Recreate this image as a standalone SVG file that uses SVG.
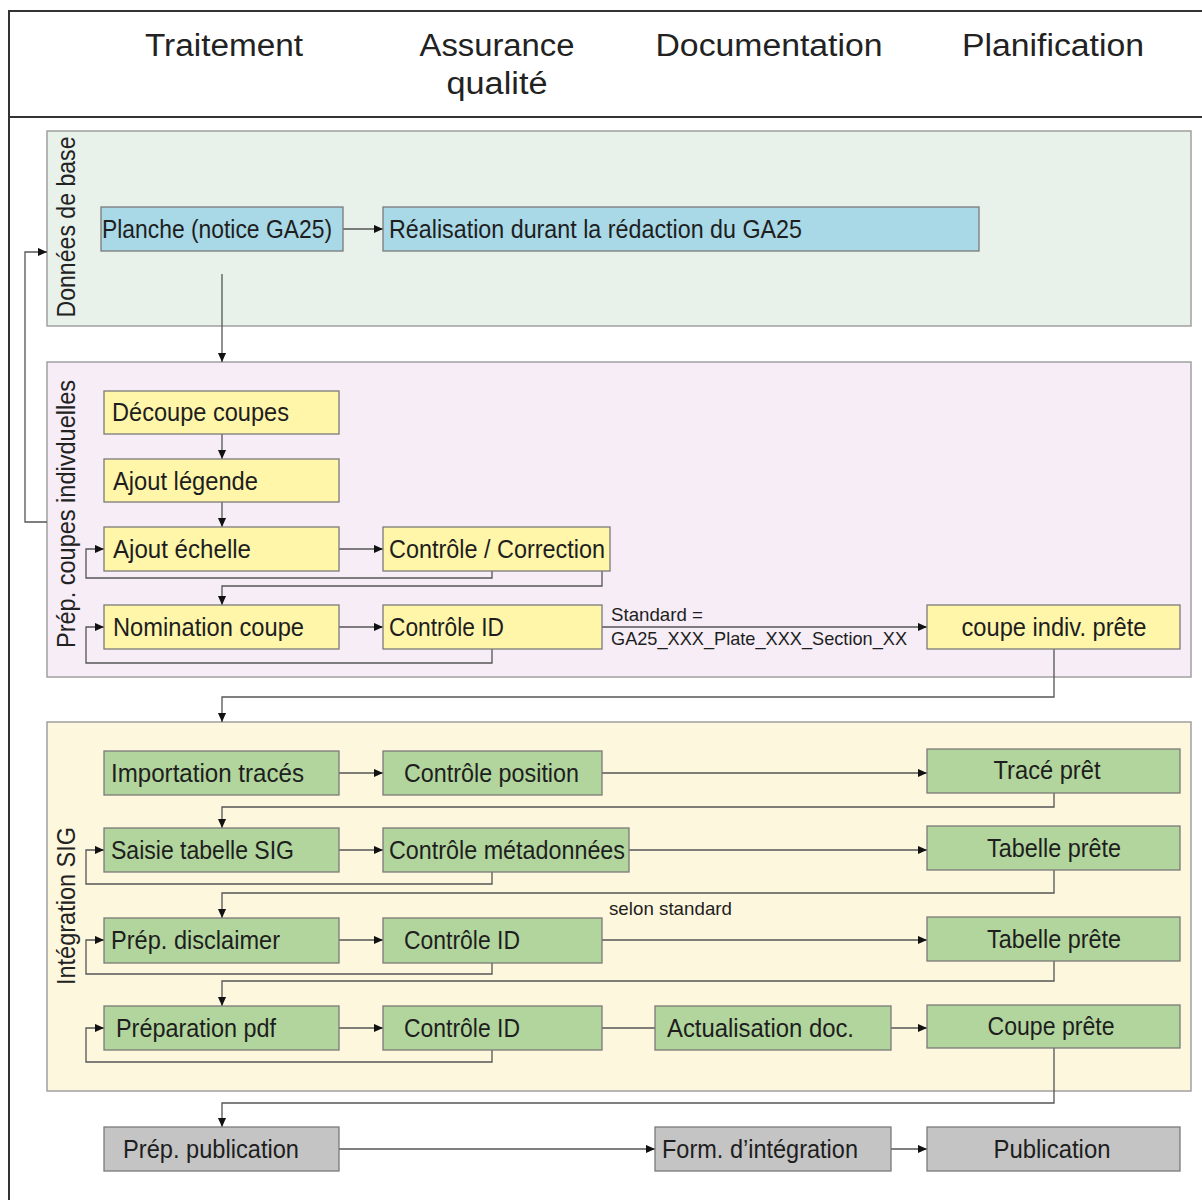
<svg xmlns="http://www.w3.org/2000/svg" width="1202" height="1200" viewBox="0 0 1202 1200">
<defs>
<marker id="ah" viewBox="0 0 10 10" refX="10" refY="5" markerWidth="9" markerHeight="9" markerUnits="userSpaceOnUse" orient="auto"><path d="M0,0.5 L10,5 L0,9.5 z" fill="#111"/></marker>
<style>
.hdr{font-family:"Liberation Sans",Arial,sans-serif;font-size:31px;fill:#222}
.vl{font-family:"Liberation Sans",Arial,sans-serif;font-size:25px;fill:#222}
.lb{font-family:"Liberation Sans Narrow","Liberation Sans",Arial,sans-serif;font-size:26px;fill:#1e1e1e}
.sm{font-family:"Liberation Sans Narrow","Liberation Sans",Arial,sans-serif;font-size:19px;fill:#1e1e1e}
.box{stroke:#7a7a7a;stroke-width:1.3}
.blue{fill:#a9d8e6}
.yel{fill:#fff6aa}
.grn{fill:#b1d59c}
.gry{fill:#c4c4c4}
.sec{stroke:#a0a0a0;stroke-width:1.5}
.ln{fill:none;stroke:#555;stroke-width:1.3}
.ar{marker-end:url(#ah)}
</style>
</defs>
<rect x="0" y="0" width="1202" height="1200" fill="#ffffff"/>
<g id="frame" fill="none" stroke="#333" stroke-width="2">
<path d="M1202,11 H9 V1200"/>
<path d="M9,117 H1202"/>
</g>
<g id="header">
<text class="hdr" x="224" y="56" text-anchor="middle" textLength="158" lengthAdjust="spacingAndGlyphs">Traitement</text>
<text class="hdr" x="497" y="56" text-anchor="middle" textLength="155" lengthAdjust="spacingAndGlyphs">Assurance</text>
<text class="hdr" x="497" y="94" text-anchor="middle" textLength="101" lengthAdjust="spacingAndGlyphs">qualité</text>
<text class="hdr" x="769" y="56" text-anchor="middle" textLength="227" lengthAdjust="spacingAndGlyphs">Documentation</text>
<text class="hdr" x="1053" y="56" text-anchor="middle" textLength="182" lengthAdjust="spacingAndGlyphs">Planification</text>
</g>
<g id="sec-base"><rect class="sec" x="47" y="131" width="1144" height="195" fill="#e8f2ea"/>
<text class="vl" transform="translate(75,227) rotate(-90)" text-anchor="middle" textLength="181" lengthAdjust="spacingAndGlyphs">Données de base</text></g>
<g id="sec-prep"><rect class="sec" x="47" y="362" width="1144" height="315" fill="#f6edf6"/>
<text class="vl" transform="translate(75,514) rotate(-90)" text-anchor="middle" textLength="268" lengthAdjust="spacingAndGlyphs">Prép. coupes indivduelles</text></g>
<g id="sec-sig"><rect class="sec" x="47" y="722" width="1144" height="369" fill="#fdf7dd"/>
<text class="vl" transform="translate(75,906) rotate(-90)" text-anchor="middle" textLength="158" lengthAdjust="spacingAndGlyphs">Intégration SIG</text></g>

<g id="connectors">
<path class="ln ar" d="M343,229 H383"/>
<path class="ln ar" d="M222,274 V362"/>
<path class="ln ar" d="M47,522 H25 V252 H47"/>
<path class="ln ar" d="M222,434 V459"/>
<path class="ln ar" d="M222,502 V527"/>
<path class="ln ar" d="M339,549 H383"/>
<path class="ln ar" d="M492,571 V578 H86 V549 H104"/>
<path class="ln ar" d="M602,571 V586 H222 V605"/>
<path class="ln ar" d="M339,627 H383"/>
<path class="ln ar" d="M492,649 V663 H86 V627 H104"/>
<path class="ln ar" d="M602,627 H927"/>
<path class="ln ar" d="M1054,649 V697 H222 V722"/>
<path class="ln ar" d="M339,773 H383"/>
<path class="ln ar" d="M602,773 H927"/>
<path class="ln ar" d="M1054,793 V807 H222 V828"/>
<path class="ln ar" d="M339,850 H383"/>
<path class="ln ar" d="M629,850 H927"/>
<path class="ln ar" d="M492,872 V884 H86 V850 H104"/>
<path class="ln ar" d="M1054,870 V893 H222 V918"/>
<path class="ln ar" d="M339,940 H383"/>
<path class="ln ar" d="M602,940 H927"/>
<path class="ln ar" d="M492,963 V974 H86 V940 H104"/>
<path class="ln ar" d="M1054,961 V981 H222 V1006"/>
<path class="ln ar" d="M339,1028 H383"/>
<path class="ln" d="M602,1028 H655"/>
<path class="ln ar" d="M891,1028 H927"/>
<path class="ln ar" d="M492,1050 V1062 H86 V1028 H104"/>
<path class="ln ar" d="M1054,1048 V1103 H222 V1127"/>
<path class="ln ar" d="M339,1149 H655" stroke="#888"/>
<path class="ln ar" d="M891,1149 H927"/>
<text class="sm" x="611" y="621" textLength="92" lengthAdjust="spacingAndGlyphs">Standard =</text>
<text class="sm" x="611" y="645" textLength="296" lengthAdjust="spacingAndGlyphs">GA25_XXX_Plate_XXX_Section_XX</text>
<text class="sm" x="609" y="915" textLength="123" lengthAdjust="spacingAndGlyphs">selon standard</text>
</g>

<g id="n-planche"><rect class="box blue" x="101" y="207" width="242" height="44"/><text class="lb" x="102" y="238" textLength="230" lengthAdjust="spacingAndGlyphs">Planche (notice GA25)</text></g>
<g id="n-realisation"><rect class="box blue" x="383" y="207" width="596" height="44"/><text class="lb" x="389" y="238" textLength="413" lengthAdjust="spacingAndGlyphs">Réalisation durant la rédaction du GA25</text></g>

<g id="n-decoupe"><rect class="box yel" x="104" y="391" width="235" height="43"/><text class="lb" x="112" y="421" textLength="177" lengthAdjust="spacingAndGlyphs">Découpe coupes</text></g>
<g id="n-legende"><rect class="box yel" x="104" y="459" width="235" height="43"/><text class="lb" x="113" y="490" textLength="145" lengthAdjust="spacingAndGlyphs">Ajout légende</text></g>
<g id="n-echelle"><rect class="box yel" x="104" y="527" width="235" height="44"/><text class="lb" x="113" y="558" textLength="138" lengthAdjust="spacingAndGlyphs">Ajout échelle</text></g>
<g id="n-controle-corr"><rect class="box yel" x="383" y="527" width="227" height="44"/><text class="lb" x="389" y="558" textLength="216" lengthAdjust="spacingAndGlyphs">Contrôle / Correction</text></g>
<g id="n-nomination"><rect class="box yel" x="104" y="605" width="235" height="44"/><text class="lb" x="113" y="636" textLength="191" lengthAdjust="spacingAndGlyphs">Nomination coupe</text></g>
<g id="n-controle-id1"><rect class="box yel" x="383" y="605" width="219" height="44"/><text class="lb" x="389" y="636" textLength="115" lengthAdjust="spacingAndGlyphs">Contrôle ID</text></g>
<g id="n-coupe-indiv"><rect class="box yel" x="927" y="605" width="253" height="44"/><text class="lb" x="1054" y="636" text-anchor="middle" textLength="185" lengthAdjust="spacingAndGlyphs">coupe indiv. prête</text></g>

<g id="n-importation"><rect class="box grn" x="104" y="751" width="235" height="44"/><text class="lb" x="111" y="782" textLength="193" lengthAdjust="spacingAndGlyphs">Importation tracés</text></g>
<g id="n-ctrl-position"><rect class="box grn" x="383" y="751" width="219" height="44"/><text class="lb" x="404" y="782" textLength="175" lengthAdjust="spacingAndGlyphs">Contrôle position</text></g>
<g id="n-trace-pret"><rect class="box grn" x="927" y="749" width="253" height="44"/><text class="lb" x="1047" y="779" text-anchor="middle" textLength="107" lengthAdjust="spacingAndGlyphs">Tracé prêt</text></g>
<g id="n-saisie"><rect class="box grn" x="104" y="828" width="235" height="44"/><text class="lb" x="111" y="859" textLength="183" lengthAdjust="spacingAndGlyphs">Saisie tabelle SIG</text></g>
<g id="n-ctrl-meta"><rect class="box grn" x="383" y="828" width="246" height="44"/><text class="lb" x="389" y="859" textLength="236" lengthAdjust="spacingAndGlyphs">Contrôle métadonnées</text></g>
<g id="n-tabelle1"><rect class="box grn" x="927" y="826" width="253" height="44"/><text class="lb" x="1054" y="857" text-anchor="middle" textLength="134" lengthAdjust="spacingAndGlyphs">Tabelle prête</text></g>
<g id="n-disclaimer"><rect class="box grn" x="104" y="918" width="235" height="45"/><text class="lb" x="111" y="949" textLength="169" lengthAdjust="spacingAndGlyphs">Prép. disclaimer</text></g>
<g id="n-ctrl-id2"><rect class="box grn" x="383" y="918" width="219" height="45"/><text class="lb" x="404" y="949" textLength="116" lengthAdjust="spacingAndGlyphs">Contrôle ID</text></g>
<g id="n-tabelle2"><rect class="box grn" x="927" y="917" width="253" height="44"/><text class="lb" x="1054" y="948" text-anchor="middle" textLength="134" lengthAdjust="spacingAndGlyphs">Tabelle prête</text></g>
<g id="n-prep-pdf"><rect class="box grn" x="104" y="1006" width="235" height="44"/><text class="lb" x="116" y="1037" textLength="160" lengthAdjust="spacingAndGlyphs">Préparation pdf</text></g>
<g id="n-ctrl-id3"><rect class="box grn" x="383" y="1006" width="219" height="44"/><text class="lb" x="404" y="1037" textLength="116" lengthAdjust="spacingAndGlyphs">Contrôle ID</text></g>
<g id="n-actualisation"><rect class="box grn" x="655" y="1006" width="236" height="44"/><text class="lb" x="667" y="1037" textLength="187" lengthAdjust="spacingAndGlyphs">Actualisation doc.</text></g>
<g id="n-coupe-prete"><rect class="box grn" x="927" y="1005" width="253" height="43"/><text class="lb" x="1051" y="1035" text-anchor="middle" textLength="127" lengthAdjust="spacingAndGlyphs">Coupe prête</text></g>

<g id="n-prep-pub"><rect class="box gry" x="104" y="1127" width="235" height="44"/><text class="lb" x="123" y="1158" textLength="176" lengthAdjust="spacingAndGlyphs">Prép. publication</text></g>
<g id="n-form"><rect class="box gry" x="655" y="1127" width="236" height="44"/><text class="lb" x="662" y="1158" textLength="196" lengthAdjust="spacingAndGlyphs">Form. d’intégration</text></g>
<g id="n-publication"><rect class="box gry" x="927" y="1127" width="253" height="44"/><text class="lb" x="1052" y="1158" text-anchor="middle" textLength="117" lengthAdjust="spacingAndGlyphs">Publication</text></g>
</svg>
